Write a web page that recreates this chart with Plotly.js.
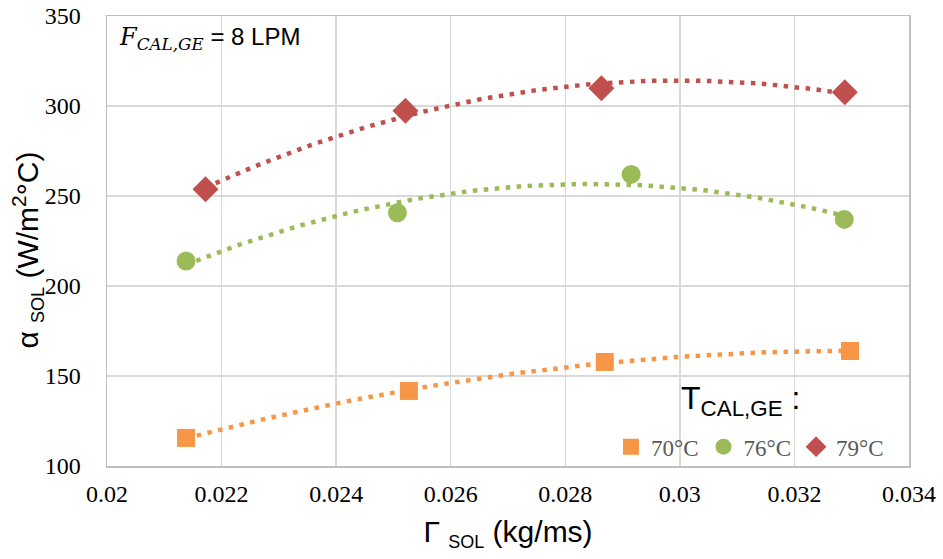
<!DOCTYPE html>
<html>
<head>
<meta charset="utf-8">
<script src="https://cdn.plot.ly/plotly-3.0.1.min.js"></script>
<style>html,body{margin:0;padding:0;background:#fff;}#chart{width:943px;height:559px;}</style>
</head>
<body>
<div id="chart"></div>
<script>
// Data
const seriesNames = ['70°C', '76°C', '79°C'];
const x70 = [0.02138, 0.02527, 0.02869, 0.03297];
const y70 = [115.6, 141.7, 157.8, 163.9];
const x76 = [0.02138, 0.02507, 0.02915, 0.03287];
const y76 = [213.9, 240.7, 262.0, 237.0];
const x79 = [0.02172, 0.02521, 0.02863, 0.03288];
const y79 = [253.7, 297.4, 309.8, 307.6];
const xTickVals = [0.02, 0.022, 0.024, 0.026, 0.028, 0.03, 0.032, 0.034];
const xTickText = ['0.02', '0.022', '0.024', '0.026', '0.028', '0.03', '0.032', '0.034'];
const yTickVals = [100, 150, 200, 250, 300, 350];
const yTickText = ['100', '150', '200', '250', '300', '350'];

const colors = ['#F79646', '#9BBB59', '#C0504D'];
const symbols = ['square', 'circle', 'diamond'];
const msize = [18, 19, 20];
const serif = 'Liberation Serif';

// Least-squares quadratic trendline (like Excel's polynomial order 2)
function quadFit(xs, ys) {
  const mx = xs.reduce((a, b) => a + b, 0) / xs.length;
  const s = 1000;
  const u = xs.map(v => (v - mx) * s);
  let S = [0, 0, 0, 0, 0], T = [0, 0, 0];
  for (let i = 0; i < u.length; i++) {
    let p = 1;
    for (let k = 0; k < 5; k++) { S[k] += p; if (k < 3) T[k] += p * ys[i]; p *= u[i]; }
  }
  const A = [[S[0], S[1], S[2], T[0]], [S[1], S[2], S[3], T[1]], [S[2], S[3], S[4], T[2]]];
  for (let i = 0; i < 3; i++) {
    let piv = i;
    for (let r = i + 1; r < 3; r++) if (Math.abs(A[r][i]) > Math.abs(A[piv][i])) piv = r;
    [A[i], A[piv]] = [A[piv], A[i]];
    for (let r = 0; r < 3; r++) {
      if (r === i) continue;
      const f = A[r][i] / A[i][i];
      for (let c = i; c < 4; c++) A[r][c] -= f * A[i][c];
    }
  }
  const c = [A[0][3] / A[0][0], A[1][3] / A[1][1], A[2][3] / A[2][2]];
  const xmin = Math.min(...xs), xmax = Math.max(...xs);
  const tx = [], ty = [];
  const n = 80;
  for (let i = 0; i <= n; i++) {
    const xv = xmin + (xmax - xmin) * i / n;
    const uv = (xv - mx) * s;
    tx.push(xv); ty.push(c[0] + c[1] * uv + c[2] * uv * uv);
  }
  return [tx, ty];
}

const xs = [x70, x76, x79], ys = [y70, y76, y79];
const traces = [];
for (let i = 0; i < 3; i++) {
  const [tx, ty] = quadFit(xs[i], ys[i]);
  traces.push({x: tx, y: ty, mode: 'lines', showlegend: false, hoverinfo: 'skip',
    line: {color: colors[i], width: 4.5, dash: '4.5px,6.5px'}});
}
for (let i = 0; i < 3; i++) {
  traces.push({x: xs[i], y: ys[i], mode: 'markers', name: seriesNames[i],
    marker: {color: colors[i], symbol: symbols[i], size: msize[i]}});
}

const layout = {
  width: 943, height: 559,
  margin: {l: 107, r: 34, t: 16, b: 93},
  paper_bgcolor: '#fff', plot_bgcolor: '#fff',
  font: {family: serif, size: 24, color: '#000'},
  showlegend: true,
  legend: {orientation: 'h', x: 0.975, xanchor: 'right', y: -0.005, yanchor: 'bottom',
    bgcolor: 'rgba(0,0,0,0)', font: {family: serif, size: 23, color: '#595959'},
    itemsizing: 'trace', traceorder: 'normal', itemwidth: 30},
  xaxis: {range: [0.02, 0.034], tickmode: 'array', tickvals: xTickVals, ticktext: xTickText,
    showgrid: true, gridcolor: '#d9d9d9', gridwidth: 1.5, zeroline: false,
    showline: true, linecolor: '#bfbfbf', linewidth: 1.5, mirror: true,
    ticks: 'outside', ticklen: 6, tickcolor: 'rgba(0,0,0,0)',
    tickfont: {family: serif, size: 24, color: '#000'},
    title: {text: "Γ <sub><span style='font-size:18px'>SOL</span></sub> (kg/ms)", font: {family: 'Liberation Sans', size: 30, color: '#000'}, standoff: 14}},
  yaxis: {range: [100, 350], tickmode: 'array', tickvals: yTickVals, ticktext: yTickText,
    showgrid: true, gridcolor: '#d9d9d9', gridwidth: 1.5, zeroline: false,
    showline: true, linecolor: '#bfbfbf', linewidth: 1.5, mirror: true,
    ticks: 'outside', ticklen: 20, tickcolor: 'rgba(0,0,0,0)',
    tickfont: {family: serif, size: 24, color: '#000'}},
  annotations: [
    {xref: 'paper', yref: 'paper', x: -0.099, y: 0.48, xanchor: 'center', yanchor: 'middle', showarrow: false,
      textangle: -90,
      text: "α <sub><span style='font-size:18px'>SOL</span></sub> (W/m<sup>2</sup>°C)",
      font: {family: 'Liberation Sans', size: 30, color: '#000'}},
    {xref: 'paper', yref: 'paper', x: 0.012, y: 0.99, xanchor: 'left', yanchor: 'top', showarrow: false,
      text: "<span style='font-family:DejaVu Serif'><i>F</i><sub><i>CAL,GE</i></sub></span> = 8 LPM",
      font: {family: 'Liberation Sans', size: 24, color: '#000'}},
    {xref: 'paper', yref: 'paper', x: 0.79, y: 0.145, xanchor: 'center', yanchor: 'middle', showarrow: false,
      text: 'T<sub>CAL,GE</sub> :', font: {family: 'Liberation Sans', size: 32, color: '#000'}}
  ]
};

Plotly.newPlot('chart', traces, layout, {displayModeBar: false, staticPlot: true});
</script>
</body>
</html>
